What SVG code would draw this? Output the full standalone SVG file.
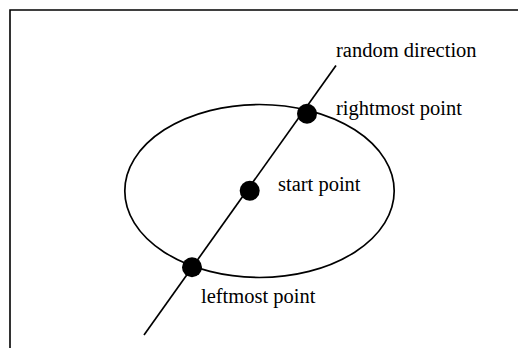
<svg xmlns="http://www.w3.org/2000/svg" width="518" height="348" viewBox="0 0 518 348">
<style>
.frame{fill:none;stroke:#000;stroke-width:1.6}
.shape{fill:none;stroke:#000;stroke-width:1.7}
.dot{fill:#000}
.lbl{font-family:"Liberation Serif","Times New Roman",serif;font-size:20.5px;fill:#000}
</style>
<rect width="518" height="348" fill="#fff"/>
<path class="frame" d="M10,348 V10 H518"/>
<g id="ellipse"><ellipse class="shape" cx="259.5" cy="191" rx="134.7" ry="86.5"/></g>
<g id="connectors"><line class="shape" x1="336" y1="65.5" x2="144" y2="335"/></g>
<g id="rightmost"><circle class="dot" cx="307" cy="113.7" r="10"/><text class="lbl" x="336" y="115">rightmost point</text></g>
<g id="start"><circle class="dot" cx="249.7" cy="190.7" r="10"/><text class="lbl" x="278" y="191">start point</text></g>
<g id="leftmost"><circle class="dot" cx="192" cy="267.3" r="10"/><text class="lbl" x="201" y="303">leftmost point</text></g>
<g id="direction"><text class="lbl" x="336" y="57">random direction</text></g>
</svg>
